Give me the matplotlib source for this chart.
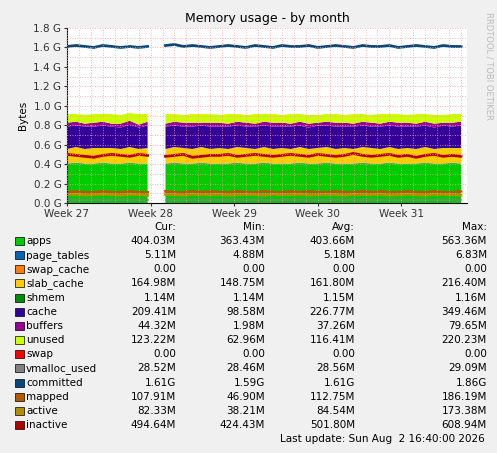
import numpy as np
import matplotlib
matplotlib.use("Agg")
import matplotlib.pyplot as plt

nan = float('nan')
# values in GB, sampled every 0.75 day starting at Week 27 (index 10 = missing data)
apps = [0.40,0.41,0.40,0.40,0.41,0.40,0.40,0.41,0.40,0.40,nan,0.40,0.41,0.40,0.40,0.41,0.40,0.40,0.40,0.41,0.40,0.40,0.41,0.40,0.40,0.40,0.41,0.40,0.40,0.41,0.40,0.40,0.40,0.41,0.40,0.40,0.41,0.40,0.40,0.40,0.41,0.40,0.40,0.41,0.40]
page_tables = [0.005]*10 + [nan] + [0.005]*34
swap_cache = [0.0]*10 + [nan] + [0.0]*34
slab_cache = [0.15,0.16,0.15,0.16,0.15,0.16,0.15,0.16,0.15,0.16,nan,0.15,0.16,0.16,0.15,0.16,0.15,0.16,0.15,0.16,0.16,0.15,0.16,0.15,0.16,0.15,0.16,0.15,0.16,0.16,0.15,0.16,0.15,0.16,0.16,0.15,0.16,0.15,0.16,0.15,0.16,0.15,0.16,0.15,0.16]
shmem = [0.001]*10 + [nan] + [0.001]*34
cache = [0.23,0.22,0.23,0.22,0.23,0.22,0.22,0.23,0.22,0.23,nan,0.23,0.22,0.22,0.23,0.22,0.23,0.22,0.23,0.22,0.22,0.23,0.22,0.23,0.22,0.23,0.22,0.22,0.23,0.22,0.23,0.22,0.23,0.22,0.22,0.23,0.22,0.23,0.22,0.23,0.22,0.22,0.23,0.22,0.23]
buffers = [0.04,0.04,0.03,0.04,0.04,0.03,0.04,0.04,0.03,0.04,nan,0.03,0.04,0.04,0.04,0.03,0.04,0.04,0.03,0.04,0.04,0.03,0.04,0.04,0.04,0.03,0.04,0.04,0.03,0.04,0.04,0.04,0.03,0.04,0.04,0.03,0.04,0.04,0.04,0.03,0.04,0.04,0.03,0.04,0.04]
unused = [0.089,0.079,0.089,0.089,0.079,0.099,0.089,0.079,0.109,0.079,nan,0.099,0.079,0.079,0.089,0.089,0.089,0.079,0.099,0.079,0.079,0.099,0.079,0.089,0.079,0.099,0.079,0.089,0.079,0.079,0.089,0.079,0.099,0.079,0.079,0.099,0.079,0.089,0.079,0.099,0.079,0.089,0.079,0.089,0.079]
swap = [0.0]*10 + [nan] + [0.0]*34
vmalloc_used = [0.028]*10 + [nan] + [0.028]*34
committed = [1.61,1.62,1.61,1.60,1.62,1.61,1.60,1.61,1.60,1.61,nan,1.62,1.63,1.61,1.62,1.61,1.60,1.61,1.62,1.61,1.60,1.62,1.61,1.60,1.62,1.61,1.61,1.62,1.60,1.61,1.62,1.61,1.60,1.62,1.61,1.61,1.62,1.60,1.61,1.62,1.61,1.60,1.62,1.61,1.61]
mapped = [0.11,0.12,0.11,0.11,0.12,0.11,0.11,0.12,0.11,0.11,nan,0.12,0.11,0.11,0.12,0.11,0.12,0.11,0.11,0.12,0.11,0.11,0.12,0.11,0.11,0.12,0.11,0.12,0.11,0.11,0.12,0.11,0.11,0.12,0.11,0.12,0.11,0.11,0.12,0.11,0.11,0.12,0.11,0.11,0.12]
active = [0.085,0.09,0.08,0.085,0.09,0.085,0.08,0.09,0.085,0.08,nan,0.09,0.085,0.08,0.09,0.085,0.085,0.09,0.08,0.085,0.09,0.085,0.08,0.09,0.085,0.085,0.09,0.08,0.085,0.09,0.085,0.08,0.09,0.085,0.085,0.09,0.08,0.085,0.09,0.085,0.08,0.09,0.085,0.085,0.08]
inactive = [0.50,0.49,0.48,0.47,0.49,0.50,0.49,0.48,0.50,0.49,nan,0.48,0.49,0.50,0.47,0.48,0.49,0.49,0.50,0.48,0.49,0.50,0.49,0.48,0.49,0.50,0.49,0.48,0.50,0.49,0.48,0.49,0.51,0.49,0.48,0.49,0.50,0.48,0.49,0.47,0.49,0.50,0.48,0.49,0.48]

week_labels = ["Week 27","Week 28","Week 29","Week 30","Week 31"]
legend_names = ["apps","page_tables","swap_cache","slab_cache","shmem","cache","buffers","unused","swap","vmalloc_used","committed","mapped","active","inactive"]
cur = ["404.03M","5.11M","0.00","164.98M","1.14M","209.41M","44.32M","123.22M","0.00","28.52M","1.61G","107.91M","82.33M","494.64M"]
mn  = ["363.43M","4.88M","0.00","148.75M","1.14M","98.58M","1.98M","62.96M","0.00","28.46M","1.59G","46.90M","38.21M","424.43M"]
avg = ["403.66M","5.18M","0.00","161.80M","1.15M","226.77M","37.26M","116.41M","0.00","28.56M","1.61G","112.75M","84.54M","501.80M"]
mx  = ["563.36M","6.83M","0.00","216.40M","1.16M","349.46M","79.65M","220.23M","0.00","29.09M","1.86G","186.19M","173.38M","608.94M"]
colors = ["#00CC00","#0066B3","#FF8000","#FFCC00","#008F00","#330099","#990099","#CCFF00","#FF0000","#808080","#00487D","#B35A00","#B38F00","#B30000"]

W, H = 497, 453
fig = plt.figure(figsize=(W/100, H/100), dpi=100)
fig.patch.set_facecolor("#F0F0F0")
ax = fig.add_axes([67/W, 1-203/H, 400/W, 175/H])
ax.set_facecolor("white")
n = len(apps)
x = np.arange(n) * 0.75
stack = [apps, page_tables, swap_cache, slab_cache, shmem, cache, buffers, unused, swap]
base = np.zeros(n)
for i, s in enumerate(stack):
    s = np.array(s, dtype=float)
    top = base + s
    ax.fill_between(x, base, top, color=colors[i], linewidth=0)
    base = top
for i, s in zip(range(9, 14), [vmalloc_used, committed, mapped, active, inactive]):
    ax.plot(x, s, color=colors[i], lw=2 if i != 9 else 1.2)
ax.set_xlim(0, 33.5)
ax.set_ylim(0, 1.8)
ax.set_xticks([0, 7, 14, 21, 28])
ax.set_xticklabels(week_labels, fontsize=7.5)
ax.set_xticks(np.arange(0, 34, 1), minor=True)
yt = np.arange(0, 1.81, 0.2)
ax.set_yticks(yt)
ax.set_yticklabels([f"{v:.1f} G" for v in yt], fontsize=7.5)
ax.set_yticks(np.arange(0, 1.8, 0.1), minor=True)
ax.grid(True, which="both", color="#FF9999", ls=(0, (1, 2)), lw=0.6)
ax.set_axisbelow(False)
for sp in ["top", "right"]:
    ax.spines[sp].set_visible(False)
ax.tick_params(length=2, pad=2, colors="#333333")
ax.tick_params(which="minor", length=0)
ax.set_ylabel("Bytes", fontsize=7.5, labelpad=4)
ax.set_title("Memory usage - by month", fontsize=9, pad=4)
fig.text(489/W, 1-12/H, "RRDTOOL / TOBI OETIKER", rotation=270, fontsize=6, color="#BBBBBB", va="top", ha="center")

fs = 7.5
def y(p): return 1 - p/H
for xp, t in [(176, "Cur:"), (265, "Min:"), (355, "Avg:"), (487, "Max:")]:
    fig.text(xp/W, y(227), t, ha="right", va="center", fontsize=fs)
for i, name in enumerate(legend_names):
    yp = 241 + i*14.15
    fig.patches.append(plt.Rectangle((15/W, y(yp+4)), 9/W, 8/H, transform=fig.transFigure,
                                     facecolor=colors[i], edgecolor="black", lw=0.5))
    fig.text(26/W, y(yp), name, va="center", fontsize=fs)
    for xp, v in [(176, cur[i]), (265, mn[i]), (355, avg[i]), (487, mx[i])]:
        fig.text(xp/W, y(yp), v, ha="right", va="center", fontsize=fs)
fig.text(485/W, y(439), "Last update: Sun Aug  2 16:40:00 2026", ha="right", va="center", fontsize=fs)
fig.savefig("out.png", dpi=100, facecolor=fig.get_facecolor())
